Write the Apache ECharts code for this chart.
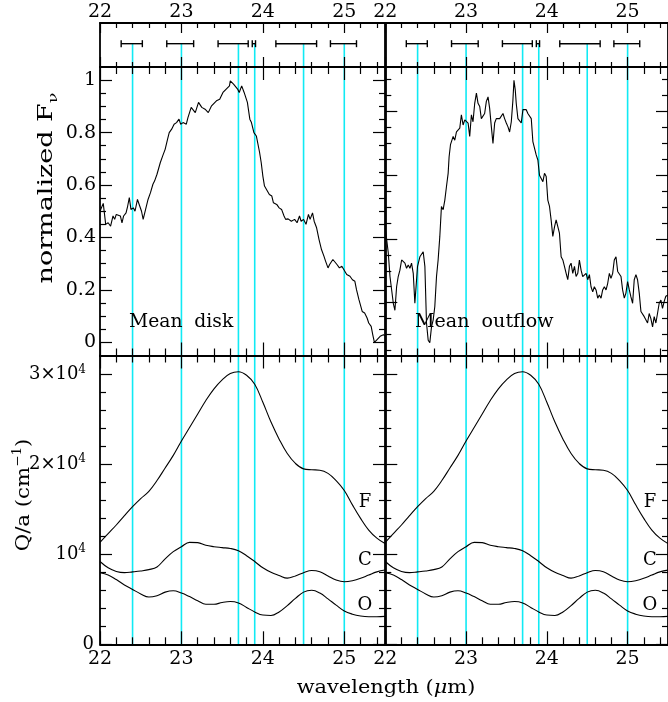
<!DOCTYPE html>
<html>
<head>
<meta charset="utf-8">
<script src="https://cdn.jsdelivr.net/npm/echarts@6/dist/echarts.min.js"></script>
<style>
  html, body { margin: 0; padding: 0; background: #fff; }
  #chart { width: 668px; height: 702px; }
</style>
</head>
<body>
<div id="chart"></div>
<script>
// feature wavelengths (um) and their ranges shown in the top strip
const featureWl = [22.4, 23.0, 23.7, 23.9, 24.5, 25.0];
const featureLo = [22.26, 22.82, 23.45, 23.87, 24.16, 24.83];
const featureHi = [22.52, 23.15, 23.82, 23.91, 24.66, 25.15];
const barLevel = 0.53;

// mean disk spectrum [wavelength, normalized flux]
const diskSpectrum = [
  [22.00,0.50],[22.04,0.53],[22.07,0.45],[22.10,0.456],[22.13,0.443],[22.16,0.482],[22.18,0.469],[22.20,0.488],
  [22.25,0.482],[22.27,0.456],[22.29,0.482],[22.32,0.494],[22.34,0.52],[22.36,0.552],[22.38,0.507],[22.41,0.513],
  [22.43,0.50],[22.46,0.545],[22.48,0.539],[22.51,0.50],[22.53,0.469],[22.56,0.507],[22.59,0.545],[22.62,0.571],
  [22.65,0.603],[22.67,0.615],[22.70,0.641],[22.72,0.647],[22.74,0.685],[22.77,0.711],[22.80,0.736],[22.83,0.775],
  [22.85,0.80],[22.88,0.813],[22.91,0.832],[22.94,0.838],[22.97,0.851],[22.99,0.832],[23.02,0.838],[23.06,0.832],
  [23.08,0.857],[23.12,0.896],[23.17,0.876],[23.21,0.915],[23.25,0.896],[23.29,0.889],[23.33,0.876],[23.37,0.902],
  [23.43,0.921],[23.47,0.927],[23.51,0.953],[23.55,0.966],[23.59,0.978],[23.60,0.997],[23.64,0.985],[23.66,0.991],
  [23.69,0.966],[23.71,0.953],[23.74,0.978],[23.77,0.953],[23.79,0.946],[23.81,0.915],[23.84,0.851],[23.86,0.838],
  [23.89,0.80],[23.92,0.787],[23.96,0.724],[23.98,0.685],[24.00,0.634],[24.02,0.596],[24.04,0.59],[24.08,0.564],
  [24.11,0.558],[24.13,0.532],[24.17,0.526],[24.20,0.513],[24.23,0.507],[24.26,0.482],[24.28,0.469],[24.31,0.471],
  [24.35,0.462],[24.39,0.469],[24.42,0.456],[24.45,0.482],[24.47,0.462],[24.50,0.469],[24.53,0.45],[24.56,0.488],
  [24.58,0.469],[24.61,0.494],[24.63,0.462],[24.66,0.437],[24.69,0.392],[24.72,0.354],[24.75,0.329],[24.77,0.31],
  [24.80,0.284],[24.82,0.297],[24.86,0.316],[24.88,0.31],[24.91,0.297],[24.94,0.284],[24.97,0.29],[24.99,0.28],
  [25.01,0.284],[25.03,0.259],[25.07,0.252],[25.10,0.239],[25.13,0.233],[25.15,0.201],[25.18,0.163],[25.22,0.118],
  [25.25,0.112],[25.28,0.093],[25.30,0.074],[25.33,0.061],[25.35,0.029],[25.37,0.0],[25.40,0.01],[25.44,0.023],
  [25.48,0.029],[25.50,0.025]
];

// mean outflow spectrum [wavelength, flux] (own unlabeled scale)
const outflowSpectrum = [
  [22.000,2.17],[22.016,2.14],[22.037,1.78],[22.058,1.41],[22.078,1.41],[22.099,0.99],[22.119,0.88],[22.140,1.25],
  [22.160,1.41],[22.181,1.51],[22.202,1.67],[22.222,1.70],[22.243,1.62],[22.263,1.54],[22.284,1.59],[22.305,1.54],
  [22.325,1.62],[22.346,1.46],[22.366,0.99],[22.387,1.36],[22.399,1.57],[22.428,1.72],[22.449,1.75],[22.469,1.80],
  [22.490,1.57],[22.510,0.68],[22.531,0.41],[22.551,0.37],[22.572,0.62],[22.593,0.73],[22.613,0.94],[22.634,1.41],
  [22.654,1.67],[22.675,2.04],[22.695,2.51],[22.716,2.46],[22.737,2.61],[22.757,2.82],[22.778,3.03],[22.790,3.29],
  [22.807,3.48],[22.827,3.45],[22.840,3.61],[22.860,3.55],[22.881,3.68],[22.901,3.71],[22.922,3.74],[22.942,3.95],
  [22.963,3.79],[22.984,3.87],[23.004,3.89],[23.025,3.82],[23.045,3.61],[23.066,3.95],[23.086,3.84],[23.107,4.13],
  [23.128,4.29],[23.148,4.13],[23.169,4.08],[23.189,3.89],[23.210,3.92],[23.230,3.97],[23.251,4.16],[23.272,4.23],
  [23.292,4.05],[23.313,3.76],[23.333,3.50],[23.354,3.82],[23.374,3.89],[23.395,3.92],[23.416,3.89],[23.436,3.92],
  [23.457,3.97],[23.477,3.89],[23.498,3.82],[23.519,3.76],[23.539,3.68],[23.560,3.84],[23.580,4.18],[23.593,4.49],
  [23.609,4.34],[23.621,4.13],[23.642,3.89],[23.663,3.87],[23.683,3.82],[23.704,4.03],[23.724,4.03],[23.745,4.03],
  [23.765,3.97],[23.786,3.95],[23.807,3.89],[23.827,3.53],[23.848,3.50],[23.868,3.32],[23.889,3.24],[23.909,3.00],
  [23.930,3.03],[23.951,2.90],[23.971,3.03],[23.992,2.98],[24.012,2.61],[24.033,2.51],[24.053,2.30],[24.074,2.04],
  [24.095,2.19],[24.115,2.30],[24.136,2.30],[24.156,2.09],[24.177,1.72],[24.198,1.67],[24.218,1.57],[24.239,1.46],
  [24.259,1.36],[24.280,1.57],[24.300,1.62],[24.321,1.46],[24.342,1.57],[24.362,1.41],[24.383,1.46],[24.403,1.67],
  [24.424,1.51],[24.444,1.41],[24.465,1.38],[24.486,1.46],[24.506,1.36],[24.527,1.44],[24.547,1.25],[24.568,1.17],
  [24.588,1.25],[24.609,1.20],[24.630,1.07],[24.650,1.12],[24.671,1.07],[24.691,1.20],[24.712,1.25],[24.733,1.20],
  [24.753,1.30],[24.774,1.46],[24.794,1.38],[24.815,1.46],[24.835,1.67],[24.856,1.72],[24.877,1.49],[24.897,1.46],
  [24.918,1.41],[24.938,1.20],[24.959,1.07],[24.979,1.15],[25.000,1.33],[25.021,1.20],[25.041,1.09],[25.062,0.99],
  [25.082,1.36],[25.103,1.44],[25.123,1.36],[25.144,1.15],[25.165,0.86],[25.185,0.83],[25.206,0.78],[25.226,0.75],
  [25.247,0.68],[25.267,0.83],[25.288,0.75],[25.309,0.62],[25.329,0.78],[25.350,0.68],[25.370,0.83],[25.391,0.99],
  [25.412,1.04],[25.432,0.91],[25.453,1.02],[25.473,1.10],[25.500,1.12]
];

// Q/a curves (cm^-1) on a common wavelength grid
const qWl = [22.0,22.1,22.2,22.3,22.4,22.5,22.6,22.7,22.8,22.9,23.0,23.1,23.2,23.3,23.4,23.5,23.6,23.7,
             23.8,23.9,24.0,24.1,24.2,24.3,24.4,24.5,24.6,24.7,24.8,24.9,25.0,25.1,25.2,25.3,25.4,25.5];
const qF = [11330,12300,13260,14300,15300,16200,17000,18200,19600,21000,22600,24100,25600,27100,28400,29400,30100,30300,
            29900,28900,26900,24700,22800,21200,20100,19500,19400,19350,19000,18200,17100,15500,14000,12700,11800,11200];
const qC = [9200,8500,8100,7970,8050,8150,8300,8600,9500,10300,10850,11330,11300,11000,10850,10750,10650,10400,
            9850,9200,8500,8000,7650,7350,7600,7950,8200,8070,7600,7150,6960,7070,7330,7700,8050,8250];
const qO = [7950,7700,7200,6600,6100,5600,5250,5400,5800,5950,5700,5300,4850,4450,4450,4650,4750,4600,
            4100,3600,3250,3200,3600,4300,5100,5800,6000,5700,5050,4350,3700,3350,3150,3070,3070,3100];

// tick values
const xMajor = [22, 23, 24, 25];
const xMinor = [22.2,22.4,22.6,22.8,23.2,23.4,23.6,23.8,24.2,24.4,24.6,24.8,25.2,25.4];
const diskMajor = [0, 0.2, 0.4, 0.6, 0.8, 1];
const diskMinor = [0.05,0.1,0.15,0.25,0.3,0.35,0.45,0.5,0.55,0.65,0.7,0.75,0.85,0.9,0.95];
const outMajor = [1, 2, 3, 4];
const outMinor = [0.25,0.5,0.75,1.25,1.5,1.75,2.25,2.5,2.75,3.25,3.5,3.75,4.25,4.5];
const qMajor = [0, 10000, 20000, 30000];
const qMinor = [2000,4000,6000,8000,12000,14000,16000,18000,22000,24000,26000,28000];

const INK = '#000';
const CYAN = '#10eaf4';
const SERIF = 'DejaVu Serif';

const xRange = [22, 25.5];
const cols = [{ left: 100, width: 285 }, { left: 385.3, width: 284 }];
const rows = [{ top: 23, height: 44 }, { top: 67, height: 288.5 }, { top: 355.5, height: 288.8 }];
const yRanges = [
  [[0, 1], [0, 1]],
  [[-0.05, 1.05], [0.17, 4.70]],
  [[0, 32100], [0, 32100]]
];
const yTicks = [
  [null, null],
  [[diskMajor, diskMinor], [outMajor, outMinor]],
  [[qMajor, qMinor], [qMajor, qMinor]]
];

const grid = [], xAxis = [], yAxis = [], series = [];

function tickAxis(list, g, pos, range, ticks, len, label, line) {
  list.push({
    type: 'value', gridIndex: g, position: pos, min: range[0], max: range[1], z: 10,
    axisLine: { show: line, onZero: false, lineStyle: { color: INK, width: 1.8 } },
    axisTick: ticks ? { show: true, inside: true, length: len, customValues: ticks,
      lineStyle: { color: INK, width: 1.2 } } : { show: false },
    axisLabel: label ? Object.assign({ show: true, color: INK, fontFamily: SERIF, fontSize: 19 }, label)
                     : { show: false },
    splitLine: { show: false }
  });
  return list.length - 1;
}

const qRich = {
  n: { fontFamily: SERIF, fontSize: 18, lineHeight: 22, color: INK },
  s: { fontFamily: SERIF, fontSize: 12, lineHeight: 12, verticalAlign: 'top', color: INK },
  g: { width: 8 }
};

const gridOf = {};
for (let c = 0; c < 2; c++) {
  for (let r = 0; r < 3; r++) {
    const g = grid.length;
    grid.push({ left: cols[c].left, top: rows[r].top, width: cols[c].width, height: rows[r].height });
    const big = r === 0 ? 10 : 13, small = r === 0 ? 5 : 7;
    const botLabel = r === 2 ? { customValues: xMajor, margin: 5, formatter: v => String(v) } : null;
    const topLabel = r === 0 ? { customValues: xMajor, margin: 1, formatter: v => String(v) } : null;
    const xi = tickAxis(xAxis, g, 'bottom', xRange, xMajor, big, botLabel, true);
    tickAxis(xAxis, g, 'bottom', xRange, xMinor, small, null, false);
    tickAxis(xAxis, g, 'top', xRange, xMajor, big, topLabel, true);
    tickAxis(xAxis, g, 'top', xRange, xMinor, small, null, false);

    const yr = yRanges[r][c];
    const yt = yTicks[r][c];
    let yLabel = null;
    if (c === 0 && r === 1) {
      yLabel = { customValues: diskMajor, margin: 4, formatter: v => String(Math.round(v * 10) / 10) };
    } else if (c === 0 && r === 2) {
      yLabel = {
        customValues: qMajor, margin: 6, rich: qRich,
        formatter: v => v === 0 ? '{n|0}'
          : '{n|' + (v === 10000 ? '' : (v / 10000) + '×') + '10}{s|4}{g| }'
      };
    }
    const yi = tickAxis(yAxis, g, 'left', yr, yt ? yt[0] : null, 12, yLabel, true);
    tickAxis(yAxis, g, 'left', yr, yt ? yt[1] : null, 6, null, false);
    tickAxis(yAxis, g, 'right', yr, yt ? yt[0] : null, 12, null, true);
    tickAxis(yAxis, g, 'right', yr, yt ? yt[1] : null, 6, null, false);
    gridOf[c + '_' + r] = { xi, yi, yr };

    // cyan feature lines
    const yFrom = r === 0 ? barLevel : yr[1];
    series.push({
      type: 'custom', xAxisIndex: xi, yAxisIndex: yi, z: 1, silent: true,
      data: featureWl.map(w => [w, yr[0], yFrom]),
      renderItem: (params, api) => {
        const p1 = api.coord([api.value(0), api.value(1)]);
        const p2 = api.coord([api.value(0), api.value(2)]);
        return { type: 'line', shape: { x1: p1[0], y1: p1[1], x2: p2[0], y2: p2[1] },
                 style: { stroke: CYAN, lineWidth: 1.6 } };
      }
    });

    if (r === 0) {
      // feature ranges
      series.push({
        type: 'custom', xAxisIndex: xi, yAxisIndex: yi, z: 3, silent: true,
        data: featureLo.map((lo, i) => [lo, featureHi[i], barLevel]),
        renderItem: (params, api) => {
          const a = api.coord([api.value(0), api.value(2)]);
          const b = api.coord([api.value(1), api.value(2)]);
          const st = { stroke: INK, lineWidth: 1.4 };
          return { type: 'group', children: [
            { type: 'line', shape: { x1: a[0], y1: a[1], x2: b[0], y2: b[1] }, style: st },
            { type: 'line', shape: { x1: a[0], y1: a[1] - 3.5, x2: a[0], y2: a[1] + 3.5 }, style: st },
            { type: 'line', shape: { x1: b[0], y1: b[1] - 3.5, x2: b[0], y2: b[1] + 3.5 }, style: st }
          ] };
        }
      });
    }
  }
}

function lineSeries(key, data, smooth) {
  const ax = gridOf[key];
  return {
    type: 'line', xAxisIndex: ax.xi, yAxisIndex: ax.yi, z: 4, data: data,
    showSymbol: false, smooth: smooth, silent: true,
    lineStyle: { color: INK, width: 1.1 }
  };
}
series.push(lineSeries('0_1', diskSpectrum, false));
series.push(lineSeries('1_1', outflowSpectrum, false));
['0_2', '1_2'].forEach(k => {
  [qF, qC, qO].forEach(q => series.push(lineSeries(k, qWl.map((w, i) => [w, q[i]]), 0.4)));
});

function txt(x, y, text, size, extra) {
  return Object.assign({
    type: 'text', x: x, y: y, z: 20, silent: true,
    style: Object.assign({
      text: text, fill: INK, font: size + 'px "' + SERIF + '"',
      align: 'center', verticalAlign: 'middle', textAlign: 'center', textVerticalAlign: 'middle'
    }, extra && extra.style)
  }, extra && extra.el);
}

const graphic = [
  txt(47, 188, '{a|normalized F}{b|ν}', 20, {
    el: { rotation: Math.PI / 2, scaleX: 1.35 },
    style: { rich: {
      a: { fontFamily: SERIF, fontSize: 20, lineHeight: 26, fill: INK },
      b: { fontFamily: SERIF, fontSize: 13, lineHeight: 14, verticalAlign: 'bottom', fill: INK }
    } }
  }),
  txt(24, 495, '{a|Q/a (cm}{b|−1}{a|)}', 19, {
    el: { rotation: Math.PI / 2, scaleX: 1.12 },
    style: { rich: {
      a: { fontFamily: SERIF, fontSize: 19, lineHeight: 24, fill: INK },
      b: { fontFamily: SERIF, fontSize: 12, lineHeight: 12, verticalAlign: 'top', fill: INK }
    } }
  }),
  txt(386, 688, '{a|wavelength (}{m|μ}{a|m)}', 19, {
    el: { scaleX: 1.1 },
    style: { rich: {
      a: { fontFamily: SERIF, fontSize: 19, fill: INK },
      m: { fontFamily: SERIF, fontSize: 19, fontStyle: 'italic', fill: INK }
    } }
  }),
  txt(129, 322, 'Mean  disk', 18, { el: { scaleX: 1.04 }, style: { align: 'left', textAlign: 'left' } }),
  txt(415, 322, 'Mean  outflow', 18, { el: { scaleX: 1.06 }, style: { align: 'left', textAlign: 'left' } }),
  txt(365, 502, 'F', 18), txt(365, 560, 'C', 18), txt(365, 605, 'O', 18),
  txt(650, 502, 'F', 18), txt(650, 560, 'C', 18), txt(650, 605, 'O', 18)
];

const chart = echarts.init(document.getElementById('chart'));
chart.setOption({
  animation: false,
  backgroundColor: '#fff',
  grid: grid,
  xAxis: xAxis,
  yAxis: yAxis,
  series: series,
  graphic: graphic
});
</script>
</body>
</html>
